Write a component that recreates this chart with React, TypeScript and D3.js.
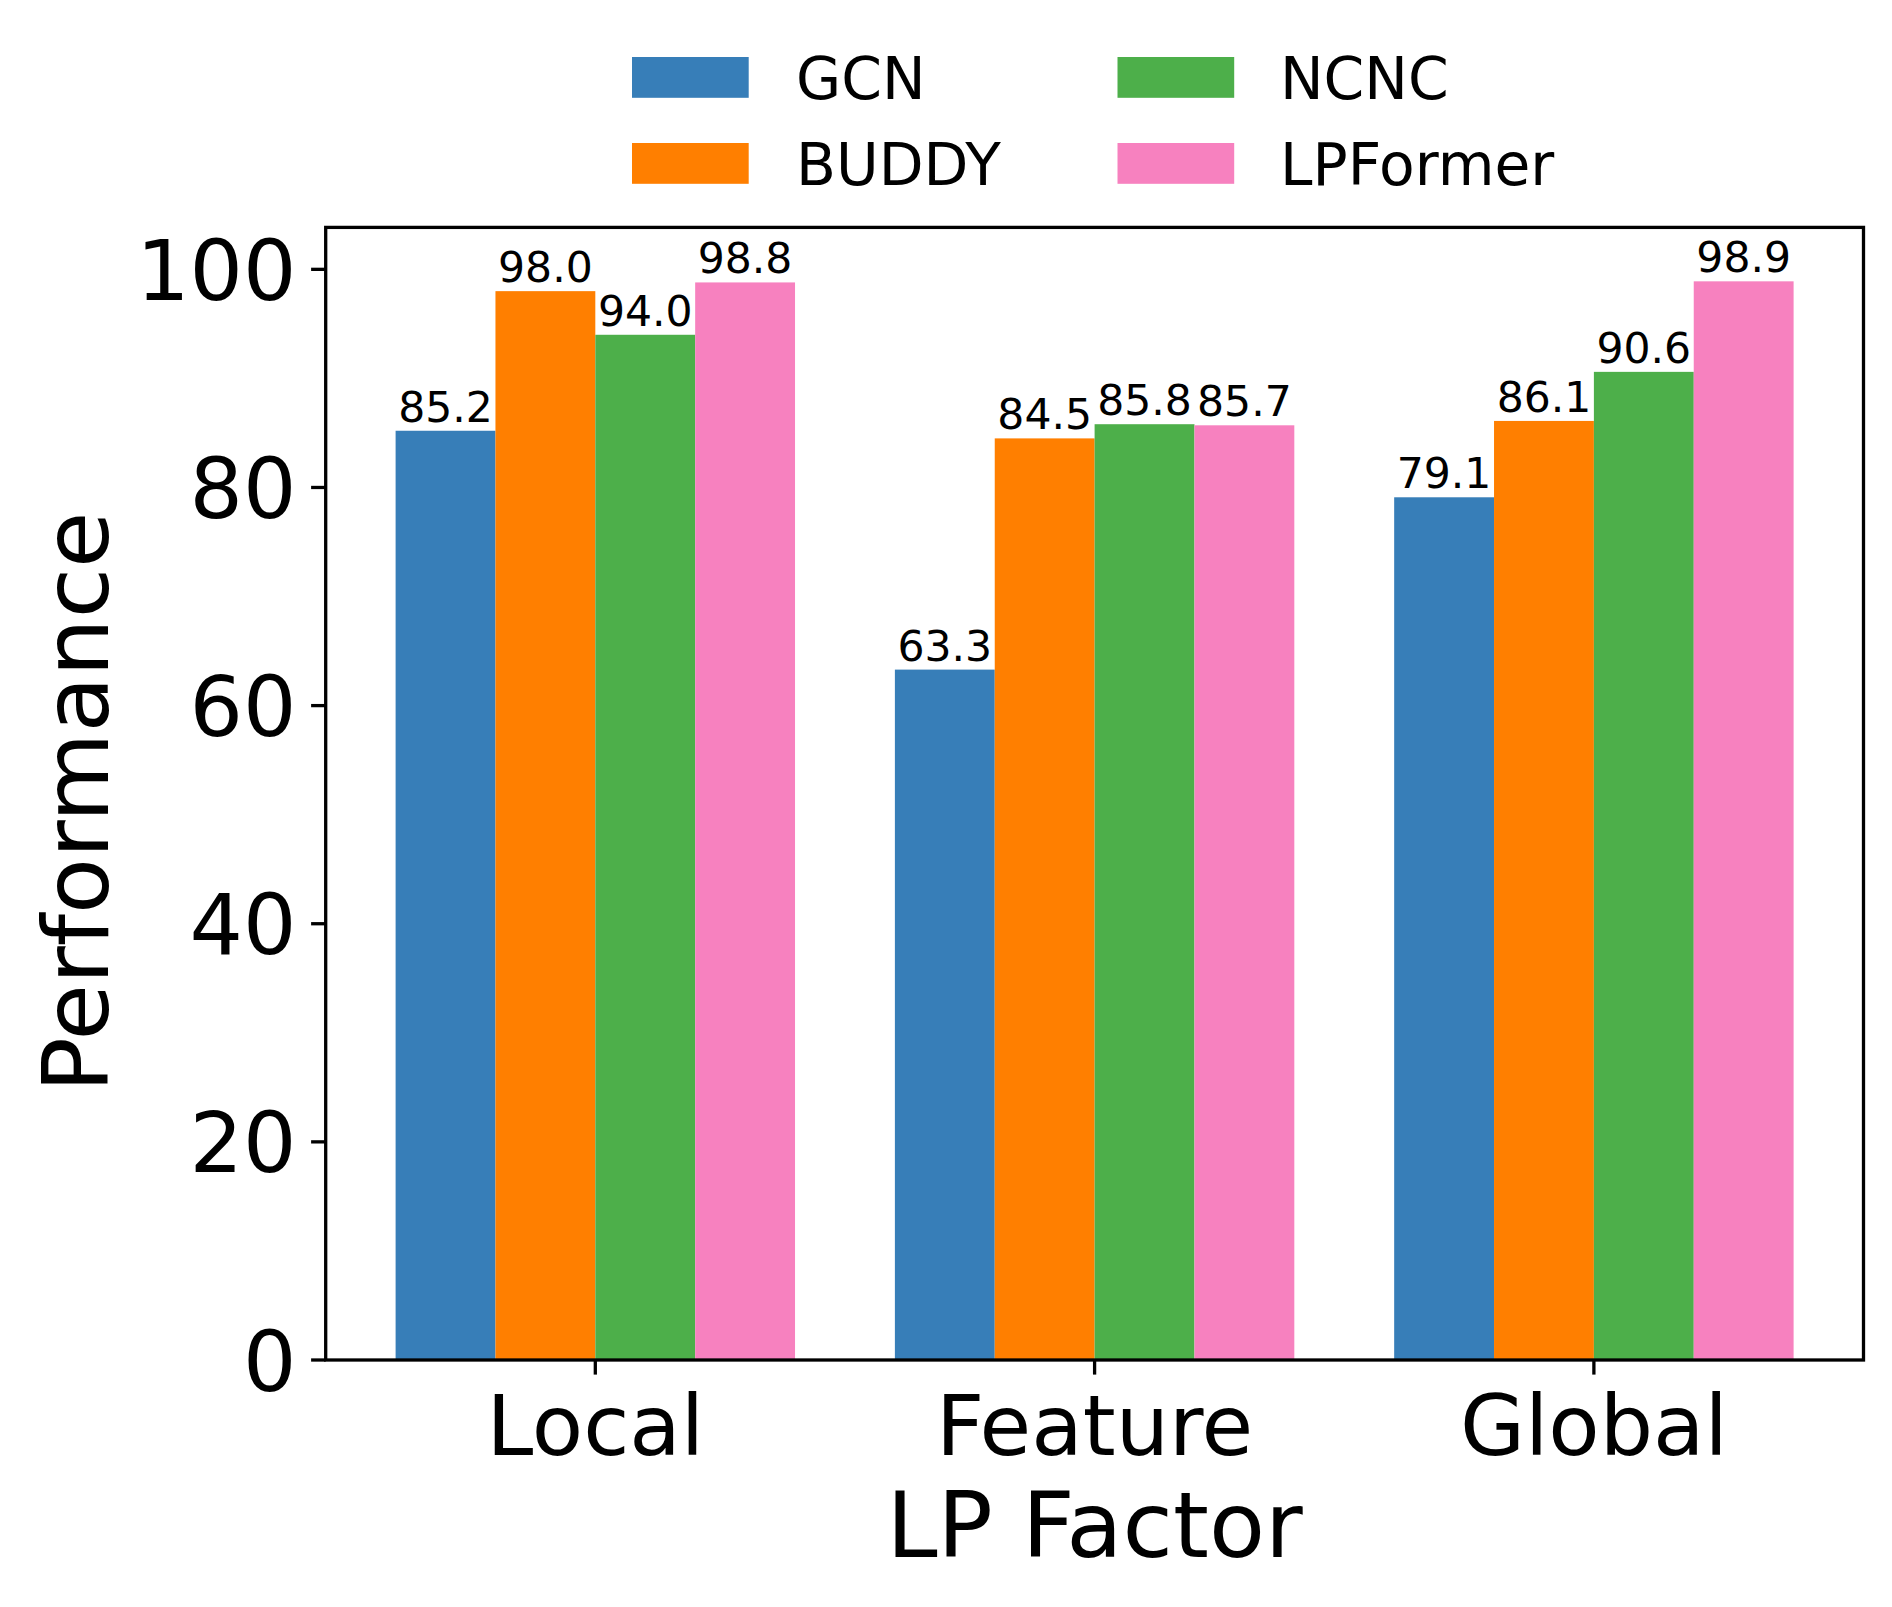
import * as d3 from "d3";
import React from "react";

const W = 1892;
const H = 1607;

const categories = ["Local", "Feature", "Global"];
const methods = ["GCN", "BUDDY", "NCNC", "LPFormer"];
const colors = ["#377eb8", "#ff7f00", "#4daf4a", "#f781bf"];

// one array per method, values in category order (Local, Feature, Global)
const gcn = [85.2, 63.3, 79.1];
const buddy = [98.0, 84.5, 86.1];
const ncnc = [94.0, 85.8, 90.6];
const lpformer = [98.8, 85.7, 98.9];
const series = [gcn, buddy, ncnc, lpformer];

const yTicks = [0, 20, 40, 60, 80, 100];

const font = "DejaVu Sans, sans-serif";
const barW = 0.2;

/* ---------- layout (px at 300 dpi) ---------- */
const left = 325.7;
const right = 1863.5;
const top = 227.4;
const bottom = 1360;
const tickLen = 14.6;
const lw = 3.3;

export default function App() {
    const yMax = d3.max(series.flat())! * 1.05;
    const y = d3.scaleLinear().domain([0, yMax]).range([bottom, top]);
    const x = d3
        .scaleLinear()
        .domain([-0.4 - 0.14, categories.length - 1 + 0.4 + 0.14])
        .range([left, right]);

    const offsets = methods.map((_, i) => (i - (methods.length - 1) / 2) * barW);

    return (
        <svg
            width={W}
            height={H}
            viewBox={`0 0 ${W} ${H}`}
            style={{ position: "absolute", left: 0, top: 0, background: "#fff" }}
            fontFamily={font}
        >
            <rect width={W} height={H} fill="#fff" />

            {/* bars + value labels */}
            {series.map((vals, si) =>
                vals.map((v, ci) => {
                    const x0 = x(ci + offsets[si] - barW / 2);
                    const x1 = x(ci + offsets[si] + barW / 2);
                    return (
                        <g key={`${si}-${ci}`}>
                            <rect
                                x={x0}
                                y={y(v)}
                                width={x1 - x0}
                                height={y(0) - y(v)}
                                fill={colors[si]}
                            />
                            <text
                                x={(x0 + x1) / 2}
                                y={y(v) - 9}
                                textAnchor="middle"
                                fontSize={42.5}
                                fill="#000"
                            >
                                {v.toFixed(1)}
                            </text>
                        </g>
                    );
                })
            )}

            {/* y ticks */}
            {yTicks.map((t) => (
                <g key={t}>
                    <line
                        x1={left - tickLen}
                        x2={left}
                        y1={y(t)}
                        y2={y(t)}
                        stroke="#000"
                        strokeWidth={lw}
                    />
                    <text
                        x={left - tickLen - 14.6}
                        y={y(t) + 30.5}
                        textAnchor="end"
                        fontSize={84}
                        fill="#000"
                    >
                        {t}
                    </text>
                </g>
            ))}

            {/* x ticks */}
            {categories.map((c, i) => (
                <g key={c}>
                    <line
                        x1={x(i)}
                        x2={x(i)}
                        y1={bottom}
                        y2={bottom + tickLen}
                        stroke="#000"
                        strokeWidth={lw}
                    />
                    <text x={x(i)} y={1455} textAnchor="middle" fontSize={84} fill="#000">
                        {c}
                    </text>
                </g>
            ))}

            {/* frame */}
            <rect
                x={left}
                y={top}
                width={right - left}
                height={bottom - top}
                fill="none"
                stroke="#000"
                strokeWidth={lw}
            />

            {/* axis labels */}
            <text
                x={(left + right) / 2}
                y={1557}
                textAnchor="middle"
                fontSize={91.7}
                fill="#000"
            >
                LP Factor
            </text>
            <text
                transform={`translate(108, 802) rotate(-90)`}
                textAnchor="middle"
                fontSize={91.7}
                fill="#000"
            >
                Performance
            </text>

            {/* legend, 2 columns */}
            {methods.map((m, i) => {
                const col = Math.floor(i / 2);
                const row = i % 2;
                const hx = col === 0 ? 632 : 1117.5;
                const tx = col === 0 ? 796 : 1280;
                const hy = 57 + row * 86;
                return (
                    <g key={m}>
                        <rect x={hx} y={hy} width={116.7} height={40.8} fill={colors[i]} />
                        <text x={tx} y={hy + 42.3} fontSize={58.3} fill="#000">
                            {m}
                        </text>
                    </g>
                );
            })}
        </svg>
    );
}
